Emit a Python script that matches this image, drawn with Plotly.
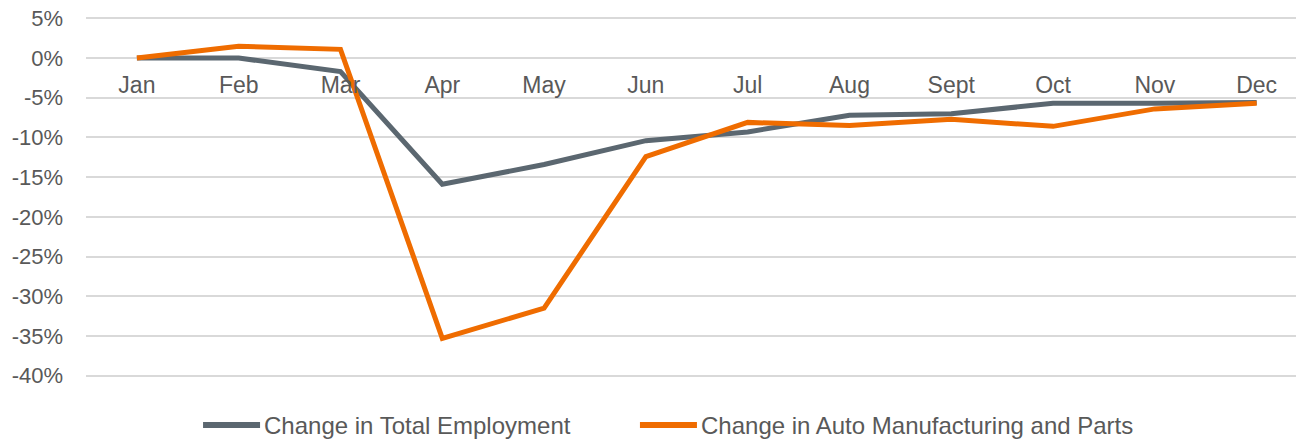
import plotly.graph_objects as go

# monthly % change
months = ["Jan", "Feb", "Mar", "Apr", "May", "Jun", "Jul", "Aug", "Sept", "Oct", "Nov", "Dec"]
total_employment = [0.0, 0.0, -1.7, -15.9, -13.4, -10.4, -9.3, -7.2, -7.0, -5.7, -5.7, -5.6]
auto_mfg = [0.0, 1.5, 1.1, -35.3, -31.5, -12.4, -8.1, -8.5, -7.7, -8.6, -6.4, -5.7]

series_names = ["Change in Total Employment", "Change in Auto Manufacturing and Parts"]
yticks = [5, 0, -5, -10, -15, -20, -25, -30, -35, -40]

GRAY = "#5b6770"
ORANGE = "#ef6c00"
TXT = "#595959"
FONT = "Liberation Sans, Arial, sans-serif"

YMIN, YMAX = -40.3, 5.3  # a little padding so the end gridlines get drawn

fig = go.Figure()
fig.add_trace(go.Scatter(x=months, y=total_employment, mode="lines", name=series_names[0],
                         line=dict(color=GRAY, width=5)))
fig.add_trace(go.Scatter(x=months, y=auto_mfg, mode="lines", name=series_names[1],
                         line=dict(color=ORANGE, width=5)))

# hand-made legend (longer swatches than plotly's own)
legend_pos = [(0.0961, 0.1429), (0.4548, 0.5016)]
for (x0, x1), name, col in zip(legend_pos, series_names, [GRAY, ORANGE]):
    fig.add_shape(type="line", xref="paper", yref="paper", x0=x0, x1=x1, y0=-0.13, y1=-0.13,
                  line=dict(color=col, width=6))
    fig.add_annotation(xref="paper", yref="paper", x=x1 + 0.0015, y=-0.13, text=name,
                       showarrow=False, xanchor="left", yanchor="middle",
                       font=dict(size=24, color=TXT))

# page body has an 8px margin -> figure is 8px smaller and offsets trimmed
fig.update_layout(
    width=1296, height=432,
    margin=dict(l=78, r=0, t=8, b=62, autoexpand=False),
    paper_bgcolor="white", plot_bgcolor="white",
    font=dict(family=FONT, size=22, color=TXT),
    showlegend=False,
    xaxis=dict(type="category", range=[-0.5, 11.465], showgrid=False, zeroline=False,
               showline=False, anchor="free", position=-YMIN / (YMAX - YMIN),
               ticks="", ticklabelstandoff=11, tickfont=dict(size=23, color=TXT)),
    yaxis=dict(range=[YMIN, YMAX], tickvals=yticks, ticktext=[f"{v}%" for v in yticks],
               showgrid=True, gridcolor="#d9d9d9", gridwidth=1.5, zeroline=False,
               showline=False, ticks="", ticklabelstandoff=22, ticklabeloverflow="allow",
               tickfont=dict(size=22, color=TXT)),
)

fig.write_html("out.html")
